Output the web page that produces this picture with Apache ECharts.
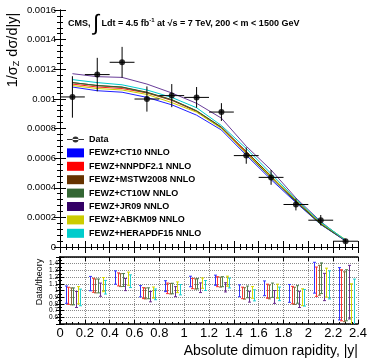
<!DOCTYPE html>
<html>
<head>
<meta charset="utf-8">
<script src="https://cdn.jsdelivr.net/npm/echarts@6/dist/echarts.min.js"></script>
<style>
html,body{margin:0;padding:0;background:#fff}
#chart{width:374px;height:363px}
</style>
</head>
<body>
<div id="chart"></div>
<script>
// bin centres in |y| and half width of each bin
var binCenters = [0.1, 0.3, 0.5, 0.7, 0.9, 1.1, 1.3, 1.5, 1.7, 1.9, 2.1, 2.3];
var binHalf = 0.1;

// measured 1/sigma dsigma/d|y| and its error
var dataValues = [0.001013, 0.001164, 0.001247, 0.000999, 0.001022, 0.00101, 0.000911, 0.000617, 0.00047, 0.000287, 0.000181, 0.000039];
var dataErrors = [0.00014, 0.000113, 0.000104, 0.000085, 0.000078, 0.00007, 0.00006, 0.000055, 0.00005, 0.00004, 0.000035, 0.000016];

// FEWZ NNLO predictions
var ct10    = [0.00108, 0.001055, 0.001045, 0.00101, 0.00096, 0.00089, 0.00079, 0.00062, 0.000455, 0.0003, 0.000152, 0.000041];
var nnpdf21 = [0.0011, 0.00108, 0.00107, 0.00104, 0.00099, 0.000915, 0.000805, 0.00064, 0.000475, 0.000308, 0.00016, 0.000042];
var mstw08  = [0.00111, 0.00109, 0.00108, 0.001045, 0.000995, 0.00092, 0.00081, 0.000645, 0.00048, 0.000312, 0.000157, 0.000043];
var ct10w   = [0.00111, 0.00109, 0.001078, 0.001042, 0.000993, 0.000918, 0.000805, 0.00063, 0.000468, 0.000305, 0.000153, 0.000042];
var jr09    = [0.00117, 0.00115, 0.001145, 0.0011, 0.00104, 0.00097, 0.00087, 0.00068, 0.00052, 0.000331, 0.000172, 0.00004];
var abkm09  = [0.00109, 0.00107, 0.00106, 0.00103, 0.000975, 0.00091, 0.0008, 0.000635, 0.000475, 0.000319, 0.000162, 0.00005];
var hera15  = [0.00113, 0.00111, 0.001095, 0.00106, 0.00101, 0.00094, 0.00082, 0.000665, 0.000495, 0.000322, 0.000167, 0.000047];

var theoryNames = ['FEWZ+CT10 NNLO', 'FEWZ+NNPDF2.1 NNLO', 'FEWZ+MSTW2008 NNLO', 'FEWZ+CT10W NNLO', 'FEWZ+JR09 NNLO', 'FEWZ+ABKM09 NNLO', 'FEWZ+HERAPDF15 NNLO'];
var theoryValues = [ct10, nnpdf21, mstw08, ct10w, jr09, abkm09, hera15];
var boxColors = ['#0000ff', '#ff0000', '#663300', '#336633', '#330066', '#cccc00', '#00cccc'];
var lineColors = ['#2020ff', '#ff2020', '#663300', '#336633', '#6a3d9a', '#cccc00', '#00cccc'];
var ratioColors = ['#3333ff', '#ff3333', '#8b6a3a', '#4f7f4f', '#6a2c91', '#d8d800', '#22d0d0'];

var font = 'Liberation Sans, Arial, Helvetica, sans-serif';
var chart = echarts.init(document.getElementById('chart'), null, {renderer: 'canvas'});

function errorBarItem(params, api) {
  var x = api.value(0), y = api.value(1), e = api.value(2);
  var l = api.coord([x - binHalf, y]), r = api.coord([x + binHalf, y]);
  var t = api.coord([x, y + e]), b = api.coord([x, y - e]);
  var st = {stroke: '#000', lineWidth: 1};
  return {type: 'group', children: [
    {type: 'line', shape: {x1: l[0], y1: l[1], x2: r[0], y2: r[1]}, style: st},
    {type: 'line', shape: {x1: t[0], y1: t[1], x2: b[0], y2: b[1]}, style: st}
  ]};
}

function ratioItem(color) {
  return function (params, api) {
    var x = api.value(0), r = api.value(1), e = api.value(2);
    var hi = r + e, lo = r - e;
    var top = Math.min(hi, 1.5), bot = Math.max(lo, 0.5);
    var pt = api.coord([x, top]), pb = api.coord([x, bot]);
    var px = Math.round(pt[0]) + 0.5;
    var st = {stroke: color, lineWidth: 1};
    var ch = [{type: 'line', shape: {x1: px, y1: pt[1], x2: px, y2: pb[1]}, style: st}];
    if (hi <= 1.5) ch.push({type: 'line', shape: {x1: px - 1.5, y1: pt[1], x2: px + 1.5, y2: pt[1]}, style: st});
    if (lo >= 0.5) ch.push({type: 'line', shape: {x1: px - 1.5, y1: pb[1], x2: px + 1.5, y2: pb[1]}, style: st});
    return {type: 'group', children: ch};
  };
}

var series = [];
theoryNames.forEach(function (name, i) {
  series.push({
    name: name, type: 'line', xAxisIndex: 0, yAxisIndex: 0,
    symbol: 'none', color: boxColors[i],
    lineStyle: {color: lineColors[i], width: 1},
    data: binCenters.map(function (x, k) { return [x, theoryValues[i][k]]; }),
    z: 2
  });
});
series.push({
  name: 'Data', type: 'scatter', xAxisIndex: 0, yAxisIndex: 0,
  symbol: 'circle', symbolSize: 6, itemStyle: {color: '#000'},
  data: binCenters.map(function (x, k) { return [x, dataValues[k]]; }),
  z: 5
});
series.push({
  type: 'custom', xAxisIndex: 0, yAxisIndex: 0, renderItem: errorBarItem,
  data: binCenters.map(function (x, k) { return [x, dataValues[k], dataErrors[k]]; }),
  z: 4
});
theoryNames.forEach(function (name, i) {
  series.push({
    type: 'custom', xAxisIndex: 2, yAxisIndex: 2, renderItem: ratioItem(ratioColors[i]),
    data: binCenters.map(function (x, k) {
      var th = theoryValues[i][k];
      return [x - 0.055 + 0.02 * i, dataValues[k] / th, dataErrors[k] / th];
    }),
    z: 3
  });
});

var tickStyle = {show: true, inside: true, length: 6, lineStyle: {color: '#000'}};
var minorStyle = {show: true, length: 3, lineStyle: {color: '#000'}};
var lineBlack = {show: true, lineStyle: {color: '#000', width: 1}};

var option = {
  animation: false,
  backgroundColor: '#fff',
  textStyle: {fontFamily: font},
  grid: [
    {left: 60, top: 10, width: 298, height: 237},
    {left: 60, top: 257, width: 298, height: 67}
  ],
  legend: {
    orient: 'vertical', left: 62, top: 130,
    itemWidth: 17, itemHeight: 9, itemGap: 4.4,
    textStyle: {fontFamily: font, fontSize: 9, fontWeight: 'bold', color: '#000'},
    data: [{name: 'Data', icon: 'path://M0,0h0.01v0.01h-0.01z M0,9h0.01v0.01h-0.01z M0,4h17v1h-17z M8.5,1.5a3,3 0 1,0 0.01,0z'}]
      .concat(theoryNames.map(function (n) { return {name: n, icon: 'rect'}; }))
  },
  xAxis: [
    {gridIndex: 0, type: 'value', min: 0, max: 2.4, interval: 0.2, axisLine: lineBlack,
     axisTick: tickStyle, minorTick: {show: true, splitNumber: 4, length: 3, lineStyle: {color: '#000'}},
     axisLabel: {show: false}, splitLine: {show: false}},
    {gridIndex: 0, type: 'value', position: 'top', min: 0, max: 2.4, interval: 0.2, axisLine: lineBlack,
     axisTick: tickStyle, minorTick: {show: true, splitNumber: 4, length: 3, lineStyle: {color: '#000'}},
     axisLabel: {show: false}, splitLine: {show: false}},
    {gridIndex: 1, type: 'value', min: 0, max: 2.4, interval: 0.2,
     axisLine: {show: true, lineStyle: {color: '#000', width: 1.5}},
     axisTick: {show: true, inside: true, length: 4, lineStyle: {color: '#000'}},
     minorTick: {show: true, splitNumber: 4, length: 2, lineStyle: {color: '#000'}},
     axisLabel: {show: true, fontSize: 13, color: '#000', margin: 3, fontFamily: font},
     splitLine: {show: true, lineStyle: {color: '#888', type: 'dotted', width: 1}},
     name: 'Absolute dimuon rapidity, |y|', nameLocation: 'end', nameGap: 0,
     nameTextStyle: {fontSize: 14, color: '#000', align: 'right', verticalAlign: 'top', padding: [20, 0, 0, 0], fontFamily: font}},
    {gridIndex: 1, type: 'value', position: 'top', min: 0, max: 2.4, interval: 0.2,
     axisLine: {show: true, lineStyle: {color: '#000', width: 1.5}},
     axisTick: {show: true, inside: true, length: 4, lineStyle: {color: '#000'}},
     axisLabel: {show: false}, splitLine: {show: false}}
  ],
  yAxis: [
    {gridIndex: 0, type: 'value', min: 0, max: 0.0016, interval: 0.0002, axisLine: lineBlack,
     axisTick: tickStyle, minorTick: {show: true, splitNumber: 5, length: 3, lineStyle: {color: '#000'}},
     axisLabel: {fontSize: 9.5, color: '#000', margin: 4, fontFamily: font}, splitLine: {show: false}},
    {gridIndex: 0, type: 'value', position: 'right', min: 0, max: 0.0016, interval: 0.0002, axisLine: lineBlack,
     axisTick: tickStyle, minorTick: {show: true, splitNumber: 5, length: 3, lineStyle: {color: '#000'}},
     axisLabel: {show: false}, splitLine: {show: false}},
    {gridIndex: 1, type: 'value', min: 0.5, max: 1.5, interval: 0.1,
     axisLine: {show: true, lineStyle: {color: '#000', width: 1.5}},
     axisTick: {show: true, inside: true, length: 4, lineStyle: {color: '#000'}},
     minorTick: {show: true, splitNumber: 2, length: 2, lineStyle: {color: '#000'}},
     axisLabel: {fontSize: 6.5, color: '#000', margin: 2, fontFamily: font},
     splitLine: {show: true, lineStyle: {color: '#888', type: 'dotted', width: 1}}},
    {gridIndex: 1, type: 'value', position: 'right', min: 0.5, max: 1.5, interval: 0.1,
     axisLine: {show: true, lineStyle: {color: '#000', width: 1.5}},
     axisTick: {show: true, inside: true, length: 4, lineStyle: {color: '#000'}},
     minorTick: {show: true, splitNumber: 2, length: 2, lineStyle: {color: '#000'}},
     axisLabel: {show: false}, splitLine: {show: false}}
  ],
  graphic: [
    {type: 'text', left: 68, top: 13, z: 10,
     style: {
       text: '{a|CMS, }{i|\u222b}{a| Ldt = 4.5 fb}{s|-1}{a| at \u221as = 7 TeV, 200 < m < 1500 GeV}',
       rich: {
         a: {fontSize: 9, fontWeight: 'bold', fontFamily: font, fill: '#000'},
         i: {fontSize: 22, fontFamily: font, fill: '#000'},
         s: {fontSize: 6, fontWeight: 'bold', fontFamily: font, fill: '#000', padding: [0, 0, 8, 0]}
       }
     }},
    {type: 'text', x: 13, y: 50, rotation: Math.PI / 2, z: 10,
     style: {
       text: '{n|1/\u03c3}{z|Z}{n| d\u03c3/d|y|}',
       align: 'center', verticalAlign: 'middle',
       rich: {
         n: {fontSize: 14.5, fontFamily: font, fill: '#000'},
         z: {fontSize: 9, fontFamily: font, fill: '#000', padding: [8, 0, 0, 0]}
       }
     }},
    {type: 'text', x: 40, y: 282, rotation: Math.PI / 2, z: 10,
     style: {text: 'Data/theory', align: 'center', verticalAlign: 'middle',
             fontSize: 9, fontFamily: font, fill: '#000'}}
  ],
  series: series
};
chart.setOption(option);
</script>
</body>
</html>
